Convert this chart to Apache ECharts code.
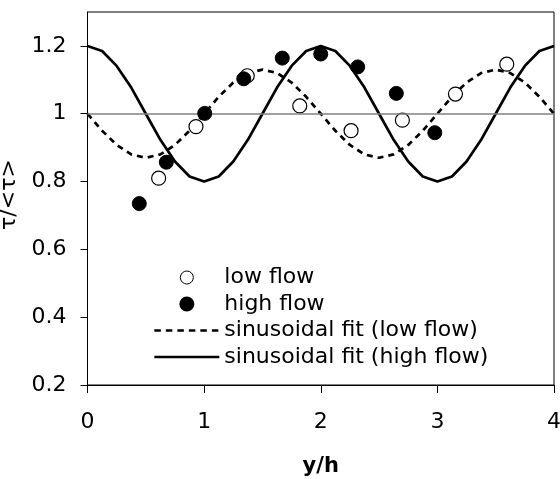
<!DOCTYPE html>
<html>
<head>
<meta charset="utf-8">
<script src="https://cdn.jsdelivr.net/npm/echarts@6/dist/echarts.min.js"></script>
<style>html,body{margin:0;padding:0;background:#fff}#c{width:560px;height:479px}</style>
</head>
<body>
<div id="c"></div>
<script>
// Measured points (y/h, tau/<tau>)
var lowFlowX = [0.61, 0.93, 1.37, 1.82, 2.26, 2.70, 3.155, 3.595];
var lowFlowY = [0.81, 0.962, 1.112, 1.023, 0.95, 0.981, 1.058, 1.146];
var highFlowX = [0.444, 0.676, 1.005, 1.34, 1.67, 2.0, 2.317, 2.648, 2.978];
var highFlowY = [0.735, 0.857, 1.001, 1.103, 1.164, 1.176, 1.138, 1.06, 0.944];
// Fitted curves at y/h steps of 0.125
var fitX = [0, 0.125, 0.25, 0.375, 0.5, 0.625, 0.75, 0.875, 1, 1.125, 1.25, 1.375, 1.5, 1.625, 1.75, 1.875, 2,
            2.125, 2.25, 2.375, 2.5, 2.625, 2.75, 2.875, 3, 3.125, 3.25, 3.375, 3.5, 3.625, 3.75, 3.875, 4];
var fitLowY = [1.0, 0.95, 0.908, 0.88, 0.87, 0.88, 0.908, 0.95, 1.0, 1.05, 1.092, 1.12, 1.13, 1.12, 1.092, 1.05, 1.0,
               0.95, 0.908, 0.88, 0.87, 0.88, 0.908, 0.95, 1.0, 1.05, 1.092, 1.12, 1.13, 1.12, 1.092, 1.05, 1.0];
var fitHighY = [1.2, 1.185, 1.141, 1.077, 1.0, 0.923, 0.859, 0.815, 0.8, 0.815, 0.859, 0.923, 1.0, 1.077, 1.141, 1.185, 1.2,
                1.185, 1.141, 1.077, 1.0, 0.923, 0.859, 0.815, 0.8, 0.815, 0.859, 0.923, 1.0, 1.077, 1.141, 1.185, 1.2];
var yTickValues = [0.2, 0.4, 0.6, 0.8, 1.0, 1.2];
var xTickValues = [0, 1, 2, 3, 4];
var names = ['low flow', 'high flow', 'sinusoidal fit (low flow)', 'sinusoidal fit (high flow)'];

function zip(xs, ys) { return xs.map(function (x, i) { return [x, ys[i]]; }); }

var FONT = 'DejaVu Sans';
var chart = echarts.init(document.getElementById('c'), null, {renderer: 'canvas'});
chart.setOption({
  animation: false,
  backgroundColor: '#fff',
  grid: {left: 87.5, right: 6, top: 12, bottom: 94, containLabel: false, outerBoundsMode: 'none',
         show: true, borderColor: '#000', borderWidth: 1, backgroundColor: 'transparent'},
  legend: {
    orient: 'vertical', left: 153, top: 266.5, padding: 0, itemGap: 4.5,
    itemWidth: 65, itemHeight: 13, selectedMode: false,
    textStyle: {fontFamily: FONT, fontSize: 22, lineHeight: 22, color: '#000'},
    data: [
      {name: names[0], itemStyle: {color: '#fff', borderColor: '#000', borderWidth: 1}},
      {name: names[1]},
      {name: names[2], itemStyle: {opacity: 0}, lineStyle: {color: '#000', width: 2.7, type: [6.5, 5]}},
      {name: names[3], itemStyle: {opacity: 0}, lineStyle: {color: '#000', width: 2.7, type: 'solid'}}
    ]
  },
  xAxis: {
    type: 'value', min: 0, max: 4, interval: 1,
    name: 'y/h', nameLocation: 'middle', nameGap: 71,
    nameTextStyle: {fontFamily: FONT, fontSize: 21, fontWeight: 'bold', color: '#000'},
    axisLine: {show: true, onZero: false, lineStyle: {color: '#000', width: 1}},
    axisTick: {show: true, inside: false, length: 8, lineStyle: {color: '#000'}},
    axisLabel: {fontFamily: FONT, fontSize: 22, lineHeight: 22, color: '#000', margin: 26,
                customValues: xTickValues},
    splitLine: {show: false}
  },
  yAxis: {
    type: 'value', min: 0.2, max: 1.3, interval: 0.2,
    name: 'τ/<τ>', nameLocation: 'middle', nameGap: 60, nameRotate: 90,
    nameTextStyle: {fontFamily: FONT, fontSize: 22, color: '#000', padding: [0, 0, 0, 8]},
    axisLine: {show: true, onZero: false, lineStyle: {color: '#000', width: 1}},
    axisTick: {show: true, inside: false, length: 7, lineStyle: {color: '#000'},
               customValues: yTickValues},
    axisLabel: {fontFamily: FONT, fontSize: 22, color: '#000', margin: 21,
                customValues: yTickValues,
                formatter: function (v) { return String(Math.round(v * 10) / 10); }},
    splitLine: {show: false}
  },
  series: [
    {
      name: names[2], type: 'line', data: zip(fitX, fitLowY), showSymbol: false, symbol: 'none',
      lineStyle: {color: '#000', width: 2.7, type: [6, 5]}, itemStyle: {color: '#000'}, z: 2,
      markLine: {silent: true, symbol: 'none', label: {show: false},
                 lineStyle: {color: '#808080', width: 1.5, type: 'solid'},
                 data: [{yAxis: 1}]}
    },
    {
      name: names[3], type: 'line', data: zip(fitX, fitHighY), showSymbol: false, symbol: 'none',
      lineStyle: {color: '#000', width: 2.7, type: 'solid'}, itemStyle: {color: '#000'}, z: 3
    },
    {
      name: names[0], type: 'scatter', data: zip(lowFlowX, lowFlowY), symbol: 'circle', symbolSize: 14,
      itemStyle: {color: '#fff', borderColor: '#000', borderWidth: 1.2, opacity: 1}, z: 4
    },
    {
      name: names[1], type: 'scatter', data: zip(highFlowX, highFlowY), symbol: 'circle', symbolSize: 14,
      itemStyle: {color: '#000', borderColor: '#000', borderWidth: 1, opacity: 1}, z: 5
    }
  ]
});
</script>
</body>
</html>
